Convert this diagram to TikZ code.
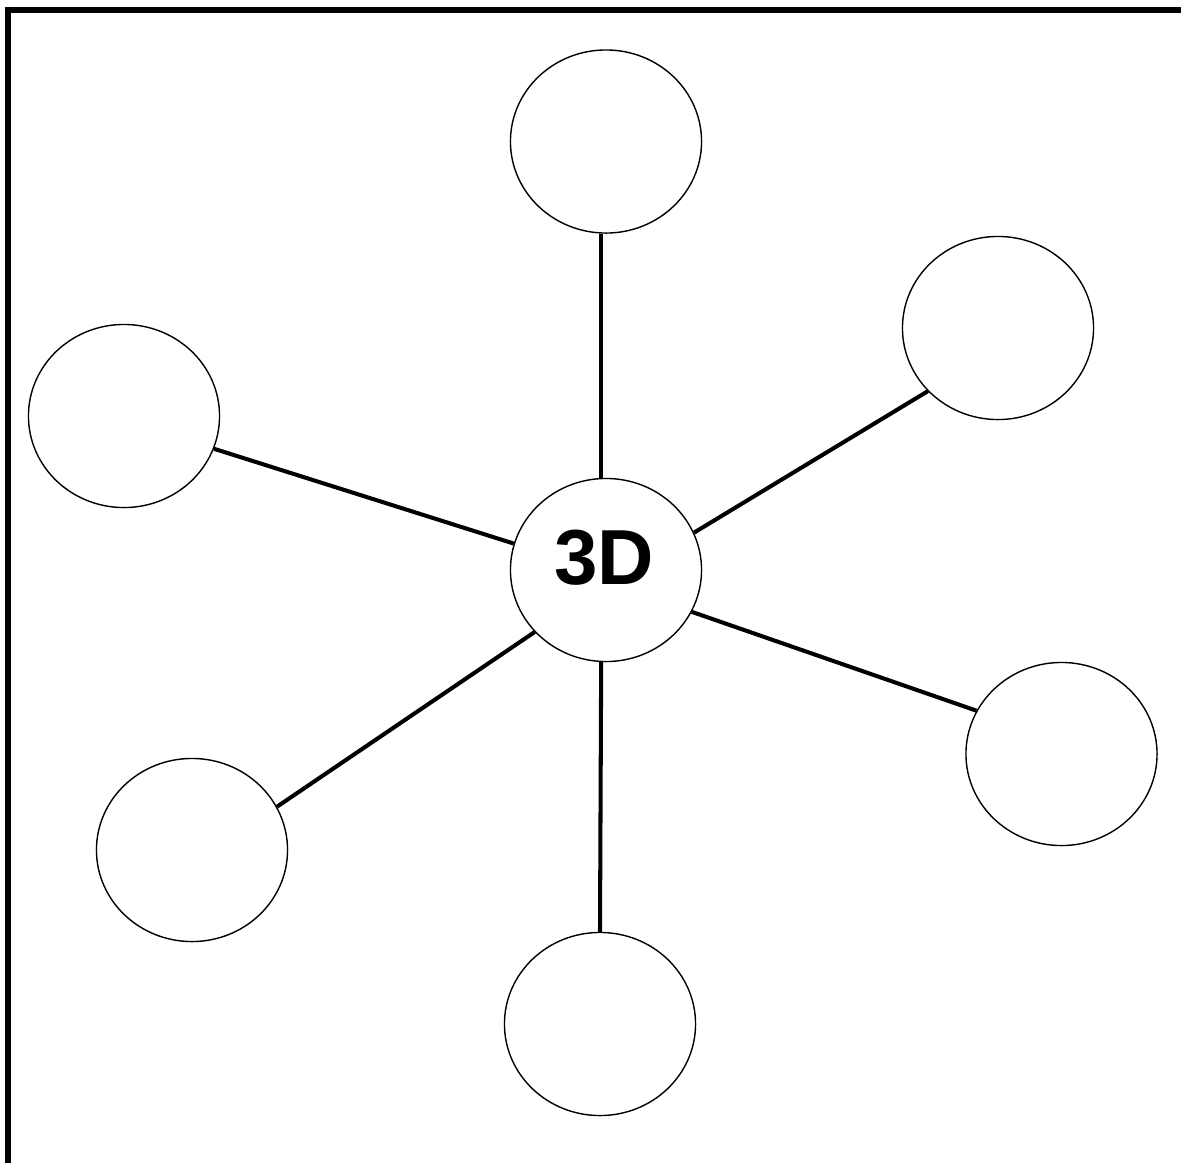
\documentclass[tikz,border=0pt]{standalone}
\usepackage{fontspec}
\setmainfont{Liberation Sans}
\usetikzlibrary{shapes.geometric}
\begin{document}
\begin{tikzpicture}[x=0.01cm,y=-0.01cm,
  bubble/.style={ellipse,draw=black,line width=0.4pt,fill=white,inner sep=0pt,minimum width=1.91cm,minimum height=1.83cm},
  spoke/.style={line width=1.15pt,line cap=butt},
  frameline/.style={line width=1.8pt}]
\useasboundingbox (0,0) rectangle (1181,1163);
\fill[white] (0,0) rectangle (1181,1163);
\draw[frameline] (8,1163) -- (8,10) -- (1181,10);
\node[bubble] (c) at (606,570) {};
\node[font=\bfseries\fontsize{22.2}{25}\selectfont] (lbl) at (604,558) {3D};
\node[bubble] (t) at (606,141.5) {};
\node[bubble] (ur) at (998,328) {};
\node[bubble] (l) at (124,416) {};
\node[bubble] (r) at (1061.5,754) {};
\node[bubble] (ll) at (192,850) {};
\node[bubble] (b) at (600,1024) {};
\draw[spoke] (t.-93.7) -- (c.93.7);
\draw[spoke] (c.23.7) -- (ur.222.4);
\draw[spoke] (l.-20) -- (c.164.3);
\draw[spoke] (c.221) -- (ll.27.9);
\draw[spoke] (c.-93.7) -- (b.90);
\draw[spoke] (c.-26.3) -- (r.153.8);
\end{tikzpicture}
\end{document}
